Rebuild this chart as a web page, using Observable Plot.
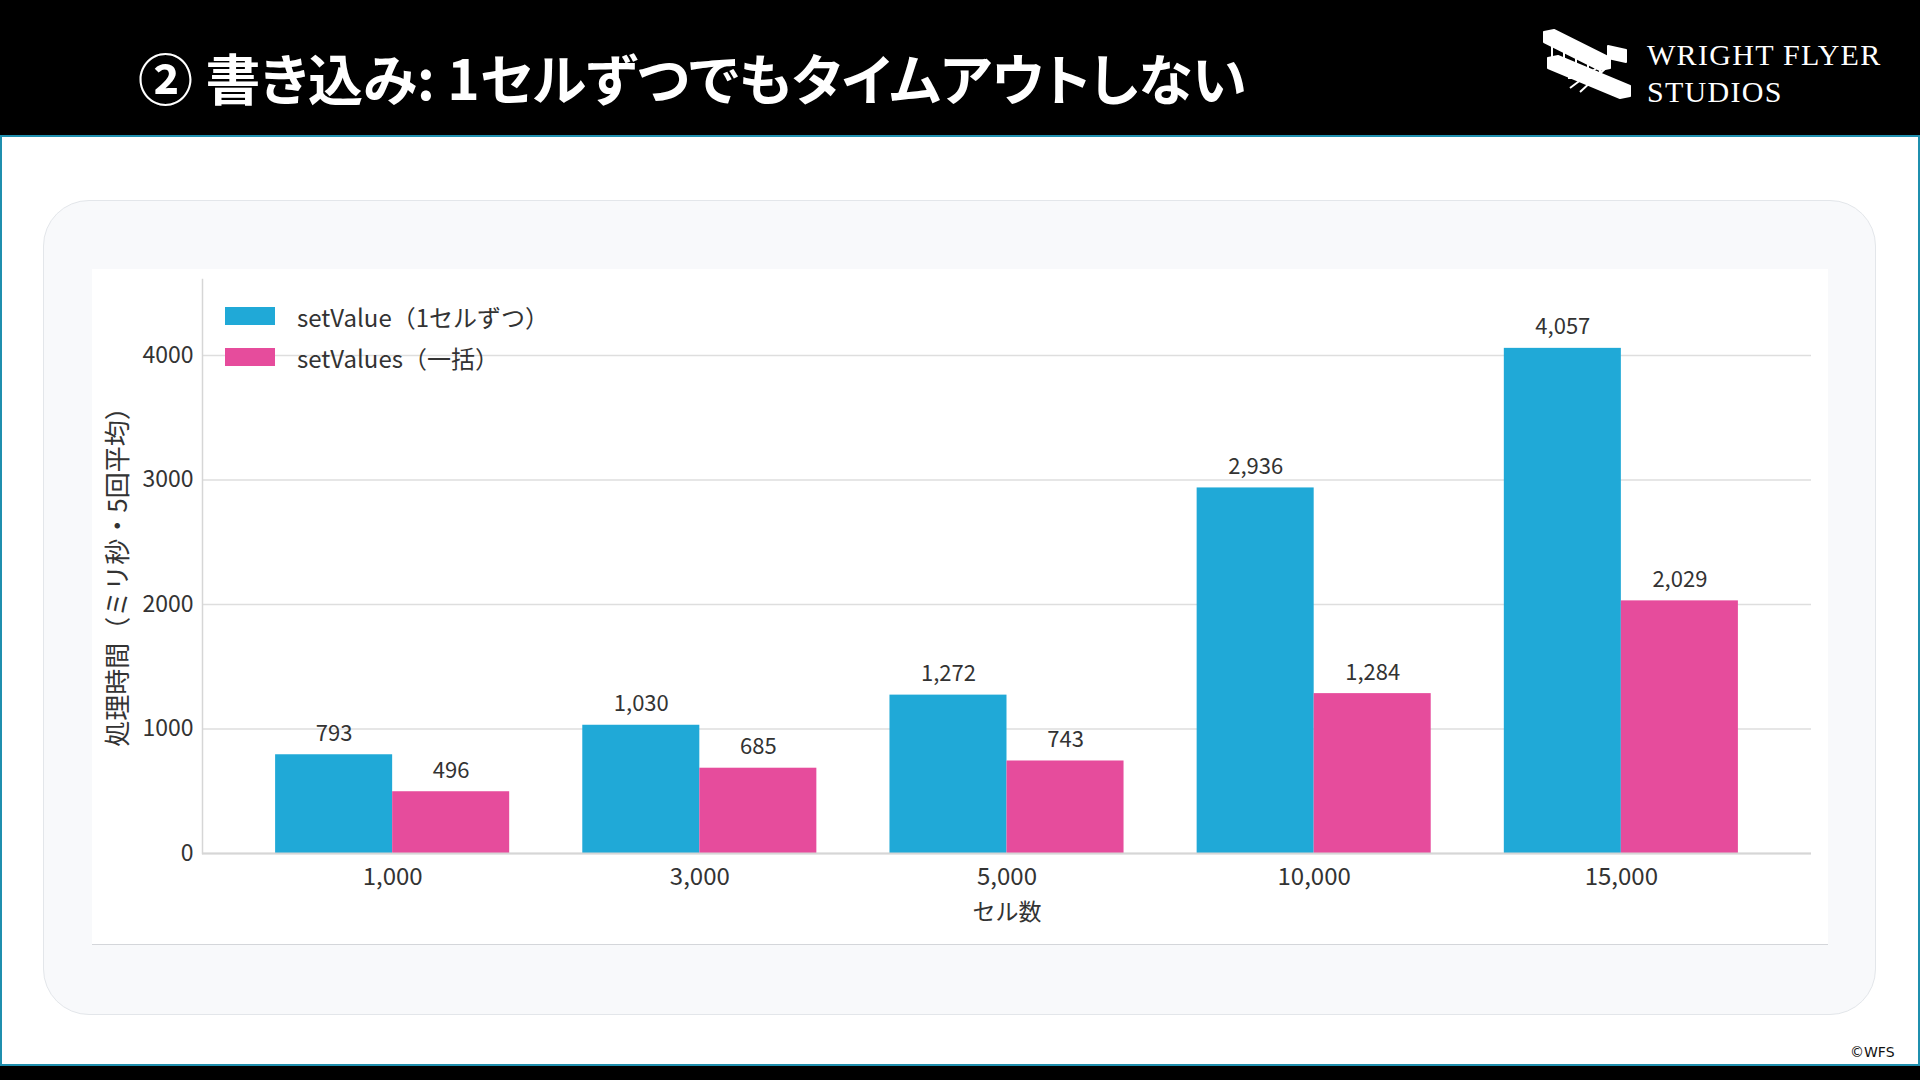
<!DOCTYPE html>
<html>
<head>
<meta charset="utf-8">
<script src="https://cdn.jsdelivr.net/npm/d3@7"></script>
<script src="https://cdn.jsdelivr.net/npm/@observablehq/plot@0.6"></script>
<style>
  html, body { margin: 0; padding: 0; background: #fff; }
  #page { position: relative; width: 1920px; height: 1080px; overflow: hidden; background: #fff; font-family: "Noto Sans CJK JP", "Noto Sans", sans-serif; }
  .abs { position: absolute; }
  #title { left: 138px; top: 38px; font-size: 55px; font-weight: 700; color: #fff; line-height: 76px; white-space: nowrap; font-feature-settings: "palt"; letter-spacing: 0px; }
  .logo { color: #fff; font-family: "Liberation Serif", "DejaVu Serif", serif; font-size: 30px; letter-spacing: 1.3px; line-height: 1; white-space: nowrap; }
  #legend .row { position: absolute; left: 0; display: flex; align-items: center; height: 30px; }
  #legend .sw { width: 50px; height: 18px; }
  #legend .lab { margin-left: 22px; font-size: 24px; color: #333; white-space: nowrap; }
</style>
</head>
<body>
<div id="page">
  <div class="abs" style="left:0;top:0;width:1920px;height:135px;background:#000;"></div>
  <div class="abs" style="left:0;top:135px;width:1920px;height:2px;background:#1f8fae;"></div>
  <div class="abs" style="left:0;top:135px;width:2px;height:931px;background:#1f8fae;"></div>
  <div class="abs" style="left:1918px;top:135px;width:2px;height:931px;background:#1f8fae;"></div>
  <div class="abs" style="left:0;top:1064px;width:1920px;height:2px;background:#1f8fae;"></div>
  <div class="abs" style="left:0;top:1066px;width:1920px;height:14px;background:#000;"></div>

  <div id="title" class="abs">② 書き込み: 1セルずつでもタイムアウトしない</div>

  <svg class="abs" style="left:1540px;top:28px;" width="94" height="76" viewBox="0 0 94 76">
    <g fill="none" stroke="#fff" stroke-width="2" stroke-linejoin="round">
      <path d="M4 4 L14 2 L70 30 L70 40 L60 42 L4 14 Z" fill="#fff"/>
      <path d="M8 30 L18 28 L90 58 L90 68 L80 70 L8 40 Z" fill="#fff"/>
      <path d="M12 14 L12 34 M24 18 L24 40 M36 24 L36 46 M48 30 L48 52 M60 36 L60 58"/>
      <path d="M30 60 L70 30 M40 64 L66 40 M28 50 L62 50"/>
      <path d="M68 18 L86 22 L86 34 L68 30 Z" fill="#fff"/>
    </g>
  </svg>
  <div class="abs logo" style="left:1647px;top:40px;">WRIGHT FLYER</div>
  <div class="abs logo" style="left:1647px;top:77px;">STUDIOS</div>

  <div class="abs" style="left:43px;top:200px;width:1833px;height:815px;box-sizing:border-box;background:#f8f9fb;border:1.5px solid #e3e6ea;border-radius:46px;"></div>
  <div id="chart" class="abs" style="left:92px;top:269px;width:1736px;height:676px;background:#fff;border-bottom:1.5px solid #d4d6da;box-sizing:border-box;"></div>
  <div id="legend" class="abs" style="left:225px;top:301px;"></div>

  <div class="abs" style="left:1850px;top:1043px;font-family:'DejaVu Sans',sans-serif;font-size:14px;color:#111;line-height:18px;">©WFS</div>
</div>
<script>
// ---- data ----
const categories = ["1,000", "3,000", "5,000", "10,000", "15,000"];
const seriesNames = ["setValue（1セルずつ）", "setValues（一括）"];
const setValueMs = [793, 1030, 1272, 2936, 4057];
const setValuesMs = [496, 685, 743, 1284, 2029];
const seriesColors = ["#20a9d7", "#e64c9c"];
const yTicks = [0, 1000, 2000, 3000, 4000];
const xLabel = "セル数";
const yLabel = "処理時間（ミリ秒・5回平均）";

const rows = [];
categories.forEach((c, i) => {
  rows.push({cat: c, series: seriesNames[0], value: setValueMs[i]});
  rows.push({cat: c, series: seriesNames[1], value: setValuesMs[i]});
});

// ---- layout ----
const W = 1736, H = 675;
const mL = 110, mR = 17, mT = 10, mB = 91;
const pad = 0.238;
const step = (W - mL - mR) / (categories.length + pad);
const half = step * (1 - pad) / 2;
const fmt = d3.format(",");

const A = rows.filter(d => d.series === seriesNames[0]);
const B = rows.filter(d => d.series === seriesNames[1]);

const plot = Plot.plot({
  width: W, height: H,
  marginLeft: mL, marginRight: mR, marginTop: mT, marginBottom: mB,
  style: {fontFamily: "'Noto Sans CJK JP', 'Noto Sans', sans-serif", background: "transparent", color: "#333"},
  x: {domain: categories, padding: pad, round: false, label: null},
  y: {domain: [0, 4610], label: null},
  color: {domain: seriesNames, range: seriesColors},
  marks: [
    Plot.gridY(yTicks, {stroke: "#dedede", strokeOpacity: 1, strokeWidth: 1.5}),
    Plot.frame({anchor: "left", stroke: "#d6d6d6", strokeWidth: 1.5}),
    Plot.barY(A, {x: "cat", y: "value", fill: "series", insetRight: half}),
    Plot.barY(B, {x: "cat", y: "value", fill: "series", insetLeft: half}),
    Plot.ruleY([0], {stroke: "#d6d6d6", strokeWidth: 2}),
    Plot.text(A, {x: "cat", y: "value", text: d => fmt(d.value), dx: -half / 2, dy: -21, fontSize: 22, fill: "#333"}),
    Plot.text(B, {x: "cat", y: "value", text: d => fmt(d.value), dx: half / 2, dy: -21, fontSize: 22, fill: "#333"}),
    Plot.axisY({ticks: yTicks, tickSize: 0, tickPadding: 9, tickFormat: d3.format("d"), fontSize: 23, color: "#333", label: null}),
    Plot.axisX({tickSize: 0, tickPadding: 14, fontSize: 24, color: "#333", label: null}),
    Plot.text([xLabel], {frameAnchor: "bottom", text: d => d, textAnchor: "middle", lineAnchor: "middle", dy: 59, fontSize: 23, fill: "#333"}),
    Plot.text([yLabel], {frameAnchor: "left", text: d => d, textAnchor: "middle", lineAnchor: "middle", rotate: -90, dx: -84, dy: 4, fontSize: 26, fill: "#333"})
  ]
});
document.getElementById("chart").appendChild(plot);

// legend
const legend = document.getElementById("legend");
seriesNames.forEach((name, i) => {
  const row = document.createElement("div");
  row.className = "row";
  row.style.top = (i * 41) + "px";
  const sw = document.createElement("div");
  sw.className = "sw";
  sw.style.background = seriesColors[i];
  const lab = document.createElement("div");
  lab.className = "lab";
  lab.textContent = name;
  row.appendChild(sw); row.appendChild(lab);
  legend.appendChild(row);
});
</script>
</body>
</html>
